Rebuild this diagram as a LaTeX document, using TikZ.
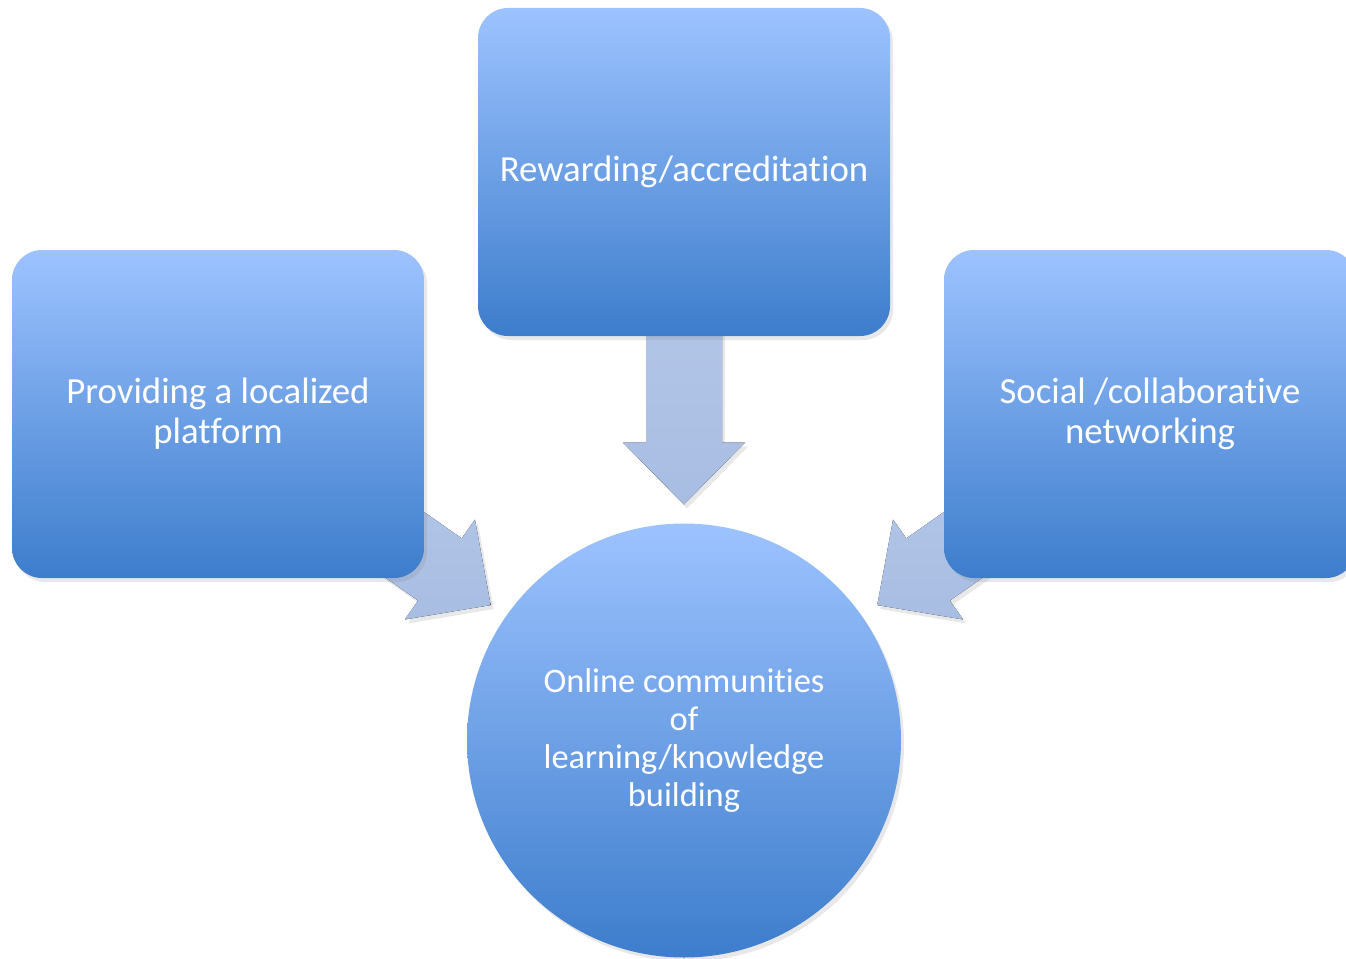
\documentclass[tikz,border=0pt]{standalone}
\usepackage{fontspec}
\setmainfont{Carlito}[Ligatures=NoCommon]
\usetikzlibrary{calc}
\usetikzlibrary{shadows}
\usetikzlibrary{backgrounds}
\definecolor{boxtop}{RGB}{157,195,255}
\definecolor{boxbottom}{RGB}{61,125,204}
\definecolor{arrowtop}{RGB}{186,204,236}
\definecolor{arrowbottom}{RGB}{168,189,226}
\tikzset{
	softshadow/.style={drop shadow={shadow xshift=3pt, shadow yshift=-4pt, opacity=0.18}},
	box/.style={rectangle, rounded corners=30pt, minimum width=412pt, minimum height=328pt, top color=boxtop, bottom color=boxbottom, text=white, align=center, font=\fontsize{36.8}{40}\selectfont, softshadow},
	hubnode/.style={circle, minimum size=434pt, top color=boxtop, bottom color=boxbottom, text=white, align=center, font=\fontsize{34.4}{38}\selectfont, softshadow},
	arrowfill/.style={top color=arrowtop, bottom color=arrowbottom, softshadow}
}
% block arrow from box #1 towards the hub #2
\newcommand{\blockarrow}[2]{%
	\coordinate (tip) at ($(#2)!236pt!(#1)$);
	\coordinate (base) at ($(tip)!62pt!(#1)$);
	\fill[arrowfill] (tip) -- ($(base)!61pt!90:(tip)$) -- ($(base)!38pt!90:(tip)$) -- ($(#1)!38pt!90:(tip)$) -- ($(#1)!38pt!-90:(tip)$) -- ($(base)!38pt!-90:(tip)$) -- ($(base)!61pt!-90:(tip)$) -- cycle;
}
\begin{document}
\begin{tikzpicture}[x=1pt,y=1pt]
	\useasboundingbox (0,0) rectangle (1346,-958);
	\node[box] (top) at (684,-172) {Rewarding/accreditation};
	\node[box] (left) at (218,-414) {Providing a localized\\platform};
	\node[box] (right) at (1150,-414) {Social /collaborative\\networking};
	\node[hubnode] (hub) at (684,-740.5) {Online communities\\of\\learning/knowledge\\building};
	\begin{pgfonlayer}{background}
		\blockarrow{top}{hub}
		\blockarrow{left}{hub}
		\blockarrow{right}{hub}
	\end{pgfonlayer}
\end{tikzpicture}
\end{document}
